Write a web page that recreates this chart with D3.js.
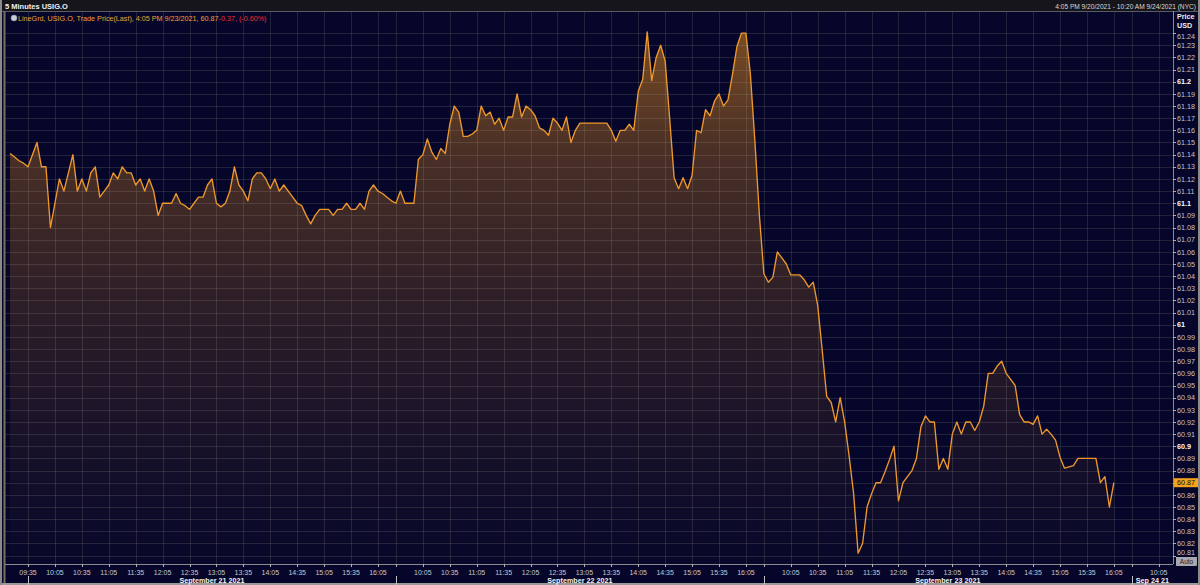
<!DOCTYPE html>
<html><head><meta charset="utf-8">
<script src="https://cdn.jsdelivr.net/npm/d3@7"></script>
<style>html,body{margin:0;padding:0;background:#000;overflow:hidden}svg{display:block;font-family:"Liberation Sans",Arial,sans-serif}</style>
</head><body><svg id="c" width="1200" height="585"></svg>
<script>
// 5-minute bars of USIG.O trade price (last)
const sep20 = [61.141, 61.138, 61.135, 61.133]; // 16:05 .. 16:20
const sep21 = [
  61.13, 61.14, 61.15, 61.13, 61.13, 61.08, 61.10, 61.12, 61.11, 61.125,
  61.14, 61.11, 61.12, 61.11, 61.125, 61.13, 61.105, 61.11, 61.115, 61.125,
  61.12, 61.13, 61.125, 61.125, 61.115, 61.12, 61.11, 61.12, 61.11, 61.09,
  61.10, 61.10, 61.10, 61.108, 61.10, 61.098, 61.095, 61.10, 61.105, 61.105,
  61.115, 61.12, 61.10, 61.097, 61.10, 61.11, 61.13, 61.115, 61.11, 61.102,
  61.12, 61.125, 61.125, 61.12, 61.112, 61.12, 61.11, 61.115, 61.11, 61.105,
  61.10, 61.098, 61.09, 61.083, 61.09, 61.095, 61.095, 61.095, 61.09, 61.095,
  61.095, 61.10, 61.095, 61.095, 61.10, 61.095, 61.11, 61.115, 61.11, 61.108,
  61.105, 61.102];
const sep22 = [
  61.10, 61.11, 61.10, 61.10, 61.10, 61.136, 61.14, 61.153, 61.142, 61.136,
  61.145, 61.141, 61.165, 61.18, 61.175, 61.155, 61.155, 61.157, 61.16, 61.18,
  61.172, 61.175, 61.165, 61.17, 61.16, 61.171, 61.171, 61.19, 61.171, 61.18,
  61.177, 61.172, 61.162, 61.16, 61.156, 61.17, 61.166, 61.16, 61.171, 61.15,
  61.16, 61.166, 61.166, 61.166, 61.166, 61.166, 61.166, 61.166, 61.16, 61.151,
  61.16, 61.16, 61.165, 61.16, 61.192, 61.202, 61.241, 61.201, 61.22, 61.23,
  61.217, 61.17, 61.121, 61.112, 61.121, 61.112, 61.123, 61.16, 61.158, 61.177,
  61.172, 61.184, 61.19, 61.18, 61.185, 61.206, 61.229, 61.24, 61.24, 61.206,
  61.151, 61.09];
const sep23 = [
  61.042, 61.035, 61.039, 61.06, 61.055, 61.05, 61.041, 61.041, 61.041, 61.037,
  61.031, 61.035, 61.016, 60.979, 60.941, 60.936, 60.92, 60.94, 60.92, 60.892,
  60.861, 60.812, 60.82, 60.85, 60.861, 60.87, 60.87, 60.879, 60.889, 60.90,
  60.855, 60.87, 60.875, 60.88, 60.89, 60.916, 60.925, 60.92, 60.92, 60.881,
  60.89, 60.881, 60.91, 60.92, 60.91, 60.92, 60.92, 60.913, 60.92, 60.933,
  60.96, 60.96, 60.966, 60.97, 60.96, 60.955, 60.95, 60.926, 60.92, 60.92,
  60.918, 60.925, 60.91, 60.914, 60.91, 60.905, 60.891, 60.882, 60.883, 60.884,
  60.89, 60.89, 60.89, 60.89, 60.89, 60.87, 60.875, 60.85, 60.87];

const timeLabels = ["09:35","10:05","10:35","11:05","11:35","12:05","12:35","13:05","13:35","14:05","14:35","15:05","15:35","16:05"];
const dayLabels = ["September 21 2021","September 22 2021","September 23 2021","Sep 24 21"];
const yTickLabels = ["61.24","61.23","61.22","61.21","61.2","61.19","61.18","61.17","61.16","61.15","61.14","61.13","61.12","61.11","61.1",
  "61.09","61.08","61.07","61.06","61.05","61.04","61.03","61.02","61.01","61","60.99","60.98","60.97","60.96","60.95","60.94","60.93",
  "60.92","60.91","60.9","60.89","60.88","60.87","60.86","60.85","60.84","60.83","60.82","60.81"];
const lastPrice = 60.87;

const W = 1200, H = 585;
const L = 5, R = 1173, T = 12, B = 564;
const barsPerDay = 82, barsPerLabel = 6;

const pts = [];
[[sep20, -sep20.length], [sep21, 0], [sep22, barsPerDay], [sep23, 2 * barsPerDay]]
  .forEach(([arr, start]) => arr.forEach((v, k) => pts.push({ i: start + k, v })));

const x = d3.scaleLinear().domain([-5.126, 255.18]).range([L, R]);
const y = d3.scaleLinear().domain([60.8031, 61.2574]).range([B, T]);

const svg = d3.select("#c");
const defs = svg.append("defs");
defs.append("clipPath").attr("id", "clip").append("rect")
  .attr("x", L).attr("y", T).attr("width", R - L).attr("height", B - T);
const g = defs.append("linearGradient").attr("id", "fillg")
  .attr("gradientUnits", "userSpaceOnUse").attr("x1", 0).attr("x2", 0).attr("y1", 35).attr("y2", B);
[[0, 0.56], [0.217, 0.34], [0.5, 0.2], [0.747, 0.1], [1, 0.01]].forEach(([o, a]) =>
  g.append("stop").attr("offset", o).attr("stop-color", "rgb(208,128,30)").attr("stop-opacity", a));

// backgrounds
svg.append("rect").attr("width", W).attr("height", H).attr("fill", "#05062a");
svg.append("rect").attr("x", 0).attr("y", 0).attr("width", W).attr("height", 11).attr("fill", "#15151b");

const plot = svg.append("g").attr("clip-path", "url(#clip)");
plot.append("path").datum(pts)
  .attr("d", d3.area().x(d => x(d.i)).y0(B).y1(d => y(d.v)))
  .attr("fill", "url(#fillg)");

// grid
const gridCol = "rgba(170,165,150,0.18)";
const yVals = yTickLabels.map(Number);
plot.append("g").selectAll("line").data(yVals).join("line")
  .attr("x1", L).attr("x2", R).attr("y1", d => Math.round(y(d)) + 0.5).attr("y2", d => Math.round(y(d)) + 0.5)
  .attr("stroke", gridCol).attr("stroke-width", 1);
const xTicks = [];
dayLabels.forEach((dl, d) => timeLabels.forEach((t, k) => {
  const i = d * barsPerDay + k * barsPerLabel;
  if (x(i) <= R - 2) xTicks.push({ i, t, d, k });
}));
plot.append("g").selectAll("line").data(xTicks).join("line")
  .attr("x1", d => Math.round(x(d.i)) + 0.5).attr("x2", d => Math.round(x(d.i)) + 0.5).attr("y1", T).attr("y2", B)
  .attr("stroke", gridCol).attr("stroke-width", 1);

plot.append("path").datum(pts)
  .attr("d", d3.line().x(d => x(d.i)).y(d => y(d.v)))
  .attr("fill", "none").attr("stroke", "#ee982c").attr("stroke-width", 1.35).attr("stroke-linejoin", "round");

// frame lines
svg.append("line").attr("x1", 0).attr("x2", W).attr("y1", 11.5).attr("y2", 11.5).attr("stroke", "#5a5a62");
svg.append("line").attr("x1", L - 0.5).attr("x2", L - 0.5).attr("y1", 11).attr("y2", 585).attr("stroke", "#7a7060").attr("stroke-width", 2);
svg.append("line").attr("x1", R + 0.5).attr("x2", R + 0.5).attr("y1", 11).attr("y2", B).attr("stroke", "#8a8a90");
svg.append("line").attr("x1", L).attr("x2", R).attr("y1", B + 0.5).attr("y2", B + 0.5).attr("stroke", "#8a8a90");
svg.append("line").attr("x1", 0).attr("x2", W).attr("y1", 584).attr("y2", 584).attr("stroke", "#9a9a9a").attr("stroke-width", 2);
svg.append("line").attr("x1", 1199).attr("x2", 1199).attr("y1", 0).attr("y2", 585).attr("stroke", "#8a8a8a").attr("stroke-width", 2);
svg.append("line").attr("x1", 1).attr("x2", 1).attr("y1", 0).attr("y2", 585).attr("stroke", "#8a8a8a").attr("stroke-width", 2);

// header
svg.append("text").attr("x", 5).attr("y", 8.5).attr("fill", "#f0f0f0").attr("font-size", 7.5).attr("font-weight", "bold").text("5 Minutes USIG.O");
svg.append("text").attr("x", 1196).attr("y", 8.5).attr("text-anchor", "end").attr("fill", "#d8d8d8").attr("font-size", 6.6).text("4:05 PM 9/20/2021 - 10:20 AM 9/24/2021 (NYC)");
svg.append("circle").attr("cx", 14).attr("cy", 18).attr("r", 3).attr("fill", "#c8ccd8").attr("stroke", "#8890a8").attr("stroke-width", 0.6);
const leg = svg.append("text").attr("x", 18).attr("y", 20.5).attr("font-size", 7.2);
leg.append("tspan").attr("fill", "#f0a030").text("LineGrd, USIG.O, Trade Price(Last), 4:05 PM 9/23/2021, 60.87");
leg.append("tspan").attr("fill", "#e8322a").text("-0.37, (-0.60%)");

// right axis
svg.append("text").attr("x", 1177).attr("y", 19).attr("fill", "#eee").attr("font-size", 7.2).attr("font-weight", "bold").text("Price");
svg.append("text").attr("x", 1177).attr("y", 28).attr("fill", "#eee").attr("font-size", 7.2).attr("font-weight", "bold").text("USD");
const ya = svg.append("g");
yTickLabels.forEach(lab => {
  const v = +lab, yy = y(v);
  const major = lab.replace(/^\d+\.?/, "").length <= 1;
  ya.append("line").attr("x1", R).attr("x2", R + 3).attr("y1", Math.round(yy) + 0.5).attr("y2", Math.round(yy) + 0.5).attr("stroke", "#b0b0b0");
  ya.append("text").attr("x", R + 4).attr("y", Math.min(Math.max(yy, 36), 552) + 2.7)
    .attr("fill", major ? "#ffffff" : "#c4c4c8").attr("font-size", 7.2).attr("font-weight", major ? "bold" : "normal").text(lab);
});
const ly = y(lastPrice);
svg.append("rect").attr("x", R + 1).attr("y", ly - 4.5).attr("width", 24).attr("height", 9).attr("fill", "#f5a21e");
svg.append("text").attr("x", R + 4).attr("y", ly + 2.7).attr("fill", "#1a1000").attr("font-size", 7.2).text(d3.format(".2f")(lastPrice));
svg.append("rect").attr("x", 1176.5).attr("y", 557.5).attr("width", 20).attr("height", 8).attr("fill", "#a8a8b0").attr("stroke", "#ddd").attr("stroke-width", 0.6);
svg.append("text").attr("x", 1186.5).attr("y", 564).attr("text-anchor", "middle").attr("fill", "#202028").attr("font-size", 6.5).text("Auto");

// bottom axis
const xa = svg.append("g");
xTicks.forEach(tk => {
  const xx = Math.round(x(tk.i)) + 0.5;
  xa.append("line").attr("x1", xx).attr("x2", xx).attr("y1", B).attr("y2", B + 3).attr("stroke", "#b0b0b0");
  if (tk.k === 0 && tk.d > 0) return;
  xa.append("text").attr("x", x(tk.i)).attr("y", 575).attr("text-anchor", "middle").attr("fill", "#c8c8cc").attr("font-size", 7).text(tk.t);
});
dayLabels.forEach((dl, d) => {
  const x0 = x(d * barsPerDay), x1 = Math.min(x((d + 1) * barsPerDay), R);
  xa.append("line").attr("x1", Math.round(x0) + 0.5).attr("x2", Math.round(x0) + 0.5).attr("y1", 576).attr("y2", 585).attr("stroke", "#c0c0c0");
  xa.append("text").attr("x", (x0 + x1) / 2).attr("y", 582.5).attr("text-anchor", "middle").attr("fill", "#f4f4f4")
    .attr("font-size", 7.2).attr("font-weight", "bold").text(dl);
});
</script></body></html>
